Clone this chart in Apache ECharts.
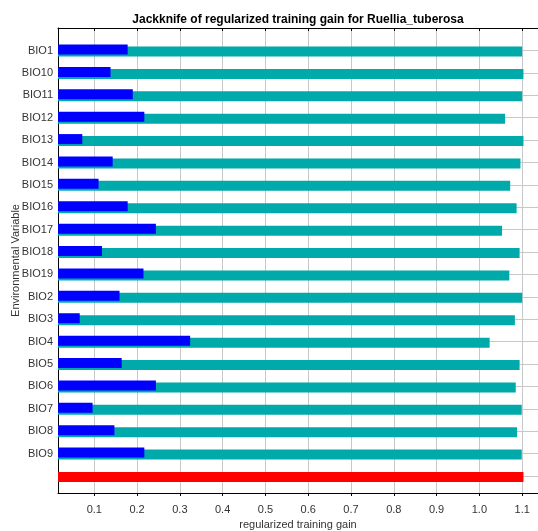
<!DOCTYPE html>
<html>
<head>
<meta charset="utf-8">
<script src="https://cdn.jsdelivr.net/npm/echarts@6/dist/echarts.min.js"></script>
<style>
  html, body {margin: 0; padding: 0; background: #fff;}
  #chart {width: 538px; height: 531px;}
</style>
</head>
<body>
<div id="chart"></div>
<script>
// Jackknife of regularized training gain (MaxEnt style), one row per variable
// plus a final unlabeled row for the model with all variables.

const variables = [
  "BIO1", "BIO10", "BIO11", "BIO12", "BIO13", "BIO14", "BIO15", "BIO16", "BIO17",
  "BIO18", "BIO19", "BIO2", "BIO3", "BIO4", "BIO5", "BIO6", "BIO7", "BIO8", "BIO9",
]

// gain of the model built without the variable (teal)
const withoutVariable = [
  1.100, 1.103, 1.100, 1.060, 1.103, 1.096, 1.072, 1.087, 1.053,
  1.094, 1.070, 1.100, 1.083, 1.024, 1.094, 1.085, 1.099, 1.088, 1.099,
]

// gain of the model built with only the variable (blue)
const withOnlyVariable = [
  0.178, 0.138, 0.190, 0.217, 0.072, 0.143, 0.110, 0.178, 0.244,
  0.118, 0.215, 0.159, 0.066, 0.324, 0.164, 0.244, 0.096, 0.147, 0.217,
]

// gain of the model with all variables (red, last row)
const withAllVariables = 1.103

const xTicks = [0.1, 0.2, 0.3, 0.4, 0.5, 0.6, 0.7, 0.8, 0.9, 1.0, 1.1]

const X_MIN = 0.0152
const X_MAX = 1.137

const FONT = "'Liberation Sans', Arial, sans-serif"
const GRID_COLOR = "#c8c8c8"

const categories = [...variables, ""]
const blueData = [...withOnlyVariable, null]
// the all-variables bar shares the teal bar's slot in the last row
const tealData = [...withoutVariable, {value: withAllVariables, itemStyle: {color: "#ff0000"}}]

const chart = echarts.init(document.getElementById("chart"), null, {renderer: "canvas"})

chart.setOption({
  backgroundColor: "#fff",
  animation: false,
  title: {
    text: "Jackknife of regularized training gain for Ruellia_tuberosa",
    left: 293,
    top: 9,
    textAlign: "center",
    textStyle: {fontFamily: FONT, fontSize: 12, fontWeight: "bold", color: "#000"},
  },
  grid: [
    // frame: box, vertical grid lines, x ticks
    {left: 58, right: 0, top: 28, bottom: 38, outerBoundsMode: "none"},
    // data rows
    {left: 58, right: 0, top: 50.5, bottom: 55, outerBoundsMode: "none"},
  ],
  xAxis: [
    {
      gridIndex: 0,
      type: "value",
      min: X_MIN,
      max: X_MAX,
      name: "regularized training gain",
      nameLocation: "middle",
      nameGap: 26,
      nameMoveOverlap: false,
      nameTextStyle: {fontFamily: FONT, fontSize: 11, color: "#333"},
      axisLine: {show: true, lineStyle: {color: "#000", width: 1}},
      axisTick: {show: true, inside: false, length: 3, customValues: xTicks, lineStyle: {color: "#000"}},
      axisLabel: {
        fontFamily: FONT, fontSize: 11, color: "#333", margin: 11,
        customValues: xTicks,
        formatter: v => v.toFixed(1),
      },
      splitLine: {show: true, lineStyle: {color: GRID_COLOR, width: 1}},
    },
    {
      gridIndex: 0,
      type: "value",
      position: "top",
      min: X_MIN,
      max: X_MAX,
      axisLine: {show: true, lineStyle: {color: "#000", width: 1}},
      axisTick: {show: true, inside: true, length: 3, customValues: xTicks, lineStyle: {color: "#000"}},
      axisLabel: {show: false},
      splitLine: {show: false},
    },
    {
      gridIndex: 1,
      type: "value",
      min: X_MIN,
      max: X_MAX,
      startValue: X_MIN,
      show: false,
    },
  ],
  yAxis: [
    {
      gridIndex: 0,
      type: "value",
      min: 0,
      max: 1,
      name: "Environmental Variable",
      nameLocation: "middle",
      nameGap: 37,
      nameMoveOverlap: false,
      nameTextStyle: {fontFamily: FONT, fontSize: 11, color: "#333"},
      axisLine: {show: true, lineStyle: {color: "#000", width: 1}},
      axisTick: {show: false},
      axisLabel: {show: false},
      splitLine: {show: false},
    },
    {
      gridIndex: 1,
      type: "category",
      data: categories,
      inverse: true,
      boundaryGap: false,
      axisLine: {show: false},
      axisTick: {show: false},
      axisLabel: {fontFamily: FONT, fontSize: 11, color: "#333", margin: 5},
      splitLine: {show: true, lineStyle: {color: GRID_COLOR, width: 1}},
    },
  ],
  series: [
    {
      name: "With only variable",
      type: "bar",
      xAxisIndex: 2,
      yAxisIndex: 1,
      data: blueData,
      barWidth: 10,
      barGap: "-80%",
      clip: false,
      z: 3,
      itemStyle: {color: "#0000ff"},
    },
    {
      name: "Without variable",
      type: "bar",
      xAxisIndex: 2,
      yAxisIndex: 1,
      data: tealData,
      barWidth: 10,
      barGap: "-80%",
      clip: false,
      z: 2,
      itemStyle: {color: "#00aaaa"},
    },
  ],
})
</script>
</body>
</html>
